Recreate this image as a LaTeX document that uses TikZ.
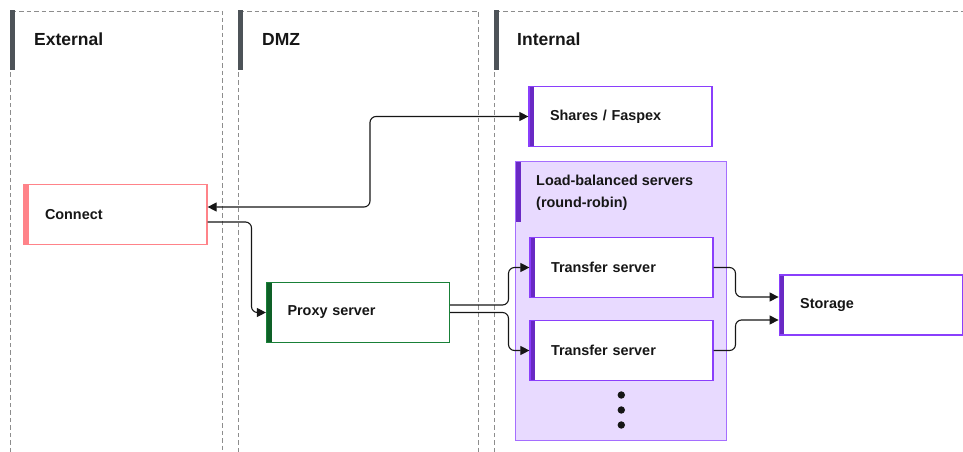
\documentclass[tikz,border=0pt]{standalone}
\usepackage{fontspec}
\setmainfont{Liberation Sans}
\usetikzlibrary{arrows.meta}

\definecolor{ink}{HTML}{161616}
\definecolor{zonegrey}{HTML}{8D8D8D}
\definecolor{bargrey}{HTML}{4D5358}
\definecolor{connectpink}{HTML}{FF8389}
\definecolor{proxygreen}{HTML}{198038}
\definecolor{proxydark}{HTML}{0E6027}
\definecolor{violetline}{HTML}{8A3FFC}
\definecolor{violetdark}{HTML}{6929C4}
\definecolor{poolfill}{HTML}{E8DAFF}
\definecolor{poolline}{HTML}{A56EFF}

\begin{document}
\begin{tikzpicture}[x=1pt,y=-1pt,>={Triangle[length=9pt,width=9pt]},
    zone/.style={draw=zonegrey, line width=0.9pt, dash pattern=on 4.5pt off 3pt},
    zonelabel/.style={anchor=base west, inner sep=0pt, text=ink, font=\bfseries\fontsize{17.5}{20}\selectfont},
    box/.style 2 args={draw=#1, line width=1.2pt, fill=white, text=ink,
        inner xsep=21pt, inner ysep=0pt, text width=141pt, minimum height=60pt, align=left,
        font=\bfseries\fontsize{14.4}{22}\selectfont,
        path picture={\fill[#2] (path picture bounding box.north west) rectangle ([xshift=5pt]path picture bounding box.south west);}},
    pool/.style={draw=poolline, line width=1.2pt, fill=poolfill, minimum width=211pt, minimum height=279pt, inner sep=0pt,
        path picture={\fill[violetdark] (path picture bounding box.north west) rectangle ([xshift=5pt,yshift=-60pt]path picture bounding box.north west);}},
    poollabel/.style={anchor=north west, inner sep=0pt, text=ink, align=left, font=\bfseries\fontsize{14.4}{22}\selectfont},
    link/.style={draw=ink, line width=1.1pt, rounded corners=6pt}]
    \useasboundingbox (0,0) rectangle (963,452);

    \draw[zone] (10,452) -- (10,11) -- (222,11) -- (222,452);
    \draw[zone] (238,452) -- (238,11) -- (478,11) -- (478,452);
    \draw[zone] (494,452) -- (494,11) -- (963,11);
    \foreach \x in {10,238,494}
        \fill[bargrey] (\x-0.5,10.5) rectangle (\x+4.5,70);

    \node[zonelabel] (external) at (34,46) {External};
    \node[zonelabel] (dmz) at (262,46) {DMZ};
    \node[zonelabel] (internal) at (517,46) {Internal};

    \node[box={connectpink}{connectpink}] (connect) at (115.5,214.5) {Connect};
    \node[box={proxygreen}{proxydark}] (proxy) at (358,312.5) {Proxy server};
    \node[box={violetline}{violetdark}] (shares) at (620.5,116.5) {Shares / Faspex};

    \node[pool] (pool) at (621.3,301) {};
    \node[poollabel] (poollabel) at (536,175) {Load-balanced servers\\(round-robin)};
    \node[box={violetline}{violetdark}] (transferA) at (621.5,267.5) {Transfer server};
    \node[box={violetline}{violetdark}] (transferB) at (621.5,350.5) {Transfer server};
    \foreach \y in {395,410,425}
        \fill[ink] (621.3,\y) circle (3.7pt);

    \node[box={violetline}{violetdark}] (storage) at (870.7,305) {Storage};

    \coordinate (bendA) at (370,0);
    \coordinate (bendB) at (251.5,0);
    \coordinate (bendC) at (508.5,0);
    \coordinate (bendD) at (735.5,0);
    \coordinate (storeA) at ([yshift=8pt]storage.west);
    \coordinate (storeB) at ([yshift=-15pt]storage.west);

    \draw[link,<->] ([yshift=7.5pt]connect.east) -| (bendA |- shares.west) -- (shares.west);
    \draw[link,->] ([yshift=-7.5pt]connect.east) -| (bendB |- proxy.west) -- (proxy.west);
    \draw[link,->] ([yshift=7.5pt]proxy.east) -| (bendC |- transferA.west) -- (transferA.west);
    \draw[link,->] (proxy.east) -| (bendC |- transferB.west) -- (transferB.west);
    \draw[link,->] (transferA.east) -| (bendD |- storeA) -- (storeA);
    \draw[link,->] (transferB.east) -| (bendD |- storeB) -- (storeB);
\end{tikzpicture}
\end{document}
